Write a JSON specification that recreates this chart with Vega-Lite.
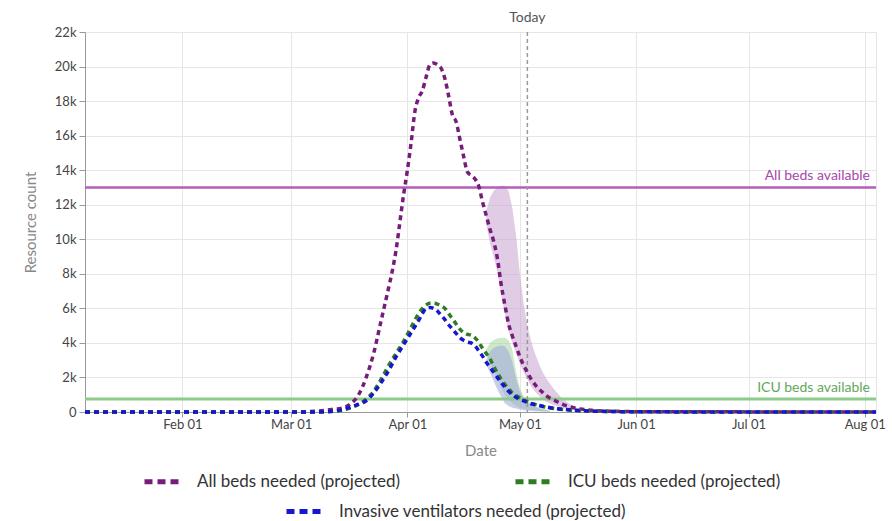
{
  "$schema": "https://vega.github.io/schema/vega-lite/v6.json",
  "autosize": {"type": "none"},
  "width": 791,
  "height": 380,
  "padding": {"left": 85, "top": 32, "right": 16, "bottom": 109},
  "background": "#ffffff",
  "config": {
    "font": "Lato",
    "view": {"stroke": "#e4e4e4"},
    "axis": {
      "gridColor": "#e6e6e6",
      "domainColor": "#999999",
      "tickColor": "#999999",
      "labelColor": "#444444",
      "labelFontSize": 13,
      "titleColor": "#888888",
      "titleFontSize": 15,
      "titleFontWeight": "normal"
    }
  },
  "datasets": {
    "needs": [
      {"date": "2020-01-06", "series": "All beds needed (projected)", "value": 0},
      {"date": "2020-03-01", "series": "All beds needed (projected)", "value": 0},
      {"date": "2020-03-08", "series": "All beds needed (projected)", "value": 50},
      {"date": "2020-03-12", "series": "All beds needed (projected)", "value": 150},
      {"date": "2020-03-15", "series": "All beds needed (projected)", "value": 250},
      {"date": "2020-03-17", "series": "All beds needed (projected)", "value": 500},
      {"date": "2020-03-19", "series": "All beds needed (projected)", "value": 1000},
      {"date": "2020-03-21", "series": "All beds needed (projected)", "value": 2000},
      {"date": "2020-03-23", "series": "All beds needed (projected)", "value": 3400},
      {"date": "2020-03-25", "series": "All beds needed (projected)", "value": 5300},
      {"date": "2020-03-27", "series": "All beds needed (projected)", "value": 7200},
      {"date": "2020-03-28", "series": "All beds needed (projected)", "value": 8200},
      {"date": "2020-03-29", "series": "All beds needed (projected)", "value": 9400},
      {"date": "2020-03-30", "series": "All beds needed (projected)", "value": 11000},
      {"date": "2020-03-31", "series": "All beds needed (projected)", "value": 12600},
      {"date": "2020-04-01", "series": "All beds needed (projected)", "value": 14000},
      {"date": "2020-04-02", "series": "All beds needed (projected)", "value": 15600},
      {"date": "2020-04-03", "series": "All beds needed (projected)", "value": 17400},
      {"date": "2020-04-04", "series": "All beds needed (projected)", "value": 18200},
      {"date": "2020-04-05", "series": "All beds needed (projected)", "value": 18600},
      {"date": "2020-04-06", "series": "All beds needed (projected)", "value": 19400},
      {"date": "2020-04-07", "series": "All beds needed (projected)", "value": 20100},
      {"date": "2020-04-08", "series": "All beds needed (projected)", "value": 20200},
      {"date": "2020-04-09", "series": "All beds needed (projected)", "value": 20100},
      {"date": "2020-04-10", "series": "All beds needed (projected)", "value": 19900},
      {"date": "2020-04-11", "series": "All beds needed (projected)", "value": 19300},
      {"date": "2020-04-12", "series": "All beds needed (projected)", "value": 18300},
      {"date": "2020-04-13", "series": "All beds needed (projected)", "value": 17200},
      {"date": "2020-04-14", "series": "All beds needed (projected)", "value": 16800},
      {"date": "2020-04-15", "series": "All beds needed (projected)", "value": 15800},
      {"date": "2020-04-16", "series": "All beds needed (projected)", "value": 14800},
      {"date": "2020-04-17", "series": "All beds needed (projected)", "value": 13900},
      {"date": "2020-04-18", "series": "All beds needed (projected)", "value": 13700},
      {"date": "2020-04-19", "series": "All beds needed (projected)", "value": 13500},
      {"date": "2020-04-20", "series": "All beds needed (projected)", "value": 13100},
      {"date": "2020-04-21", "series": "All beds needed (projected)", "value": 12200},
      {"date": "2020-04-22", "series": "All beds needed (projected)", "value": 11400},
      {"date": "2020-04-23", "series": "All beds needed (projected)", "value": 10600},
      {"date": "2020-04-24", "series": "All beds needed (projected)", "value": 9900},
      {"date": "2020-04-25", "series": "All beds needed (projected)", "value": 8900},
      {"date": "2020-04-26", "series": "All beds needed (projected)", "value": 7400},
      {"date": "2020-04-27", "series": "All beds needed (projected)", "value": 6200},
      {"date": "2020-04-28", "series": "All beds needed (projected)", "value": 5100},
      {"date": "2020-04-29", "series": "All beds needed (projected)", "value": 4400},
      {"date": "2020-04-30", "series": "All beds needed (projected)", "value": 3800},
      {"date": "2020-05-01", "series": "All beds needed (projected)", "value": 3200},
      {"date": "2020-05-02", "series": "All beds needed (projected)", "value": 2700},
      {"date": "2020-05-03", "series": "All beds needed (projected)", "value": 2300},
      {"date": "2020-05-04", "series": "All beds needed (projected)", "value": 1900},
      {"date": "2020-05-05", "series": "All beds needed (projected)", "value": 1600},
      {"date": "2020-05-06", "series": "All beds needed (projected)", "value": 1350},
      {"date": "2020-05-07", "series": "All beds needed (projected)", "value": 1150},
      {"date": "2020-05-08", "series": "All beds needed (projected)", "value": 950},
      {"date": "2020-05-10", "series": "All beds needed (projected)", "value": 700},
      {"date": "2020-05-12", "series": "All beds needed (projected)", "value": 480},
      {"date": "2020-05-14", "series": "All beds needed (projected)", "value": 320},
      {"date": "2020-05-17", "series": "All beds needed (projected)", "value": 180},
      {"date": "2020-05-20", "series": "All beds needed (projected)", "value": 100},
      {"date": "2020-05-25", "series": "All beds needed (projected)", "value": 50},
      {"date": "2020-06-01", "series": "All beds needed (projected)", "value": 20},
      {"date": "2020-08-04", "series": "All beds needed (projected)", "value": 0},

      {"date": "2020-01-06", "series": "ICU beds needed (projected)", "value": 0},
      {"date": "2020-03-08", "series": "ICU beds needed (projected)", "value": 0},
      {"date": "2020-03-14", "series": "ICU beds needed (projected)", "value": 80},
      {"date": "2020-03-17", "series": "ICU beds needed (projected)", "value": 250},
      {"date": "2020-03-19", "series": "ICU beds needed (projected)", "value": 450},
      {"date": "2020-03-21", "series": "ICU beds needed (projected)", "value": 750},
      {"date": "2020-03-23", "series": "ICU beds needed (projected)", "value": 1200},
      {"date": "2020-03-25", "series": "ICU beds needed (projected)", "value": 1900},
      {"date": "2020-03-27", "series": "ICU beds needed (projected)", "value": 2700},
      {"date": "2020-03-29", "series": "ICU beds needed (projected)", "value": 3400},
      {"date": "2020-03-31", "series": "ICU beds needed (projected)", "value": 4100},
      {"date": "2020-04-02", "series": "ICU beds needed (projected)", "value": 4900},
      {"date": "2020-04-04", "series": "ICU beds needed (projected)", "value": 5700},
      {"date": "2020-04-05", "series": "ICU beds needed (projected)", "value": 6000},
      {"date": "2020-04-06", "series": "ICU beds needed (projected)", "value": 6200},
      {"date": "2020-04-07", "series": "ICU beds needed (projected)", "value": 6300},
      {"date": "2020-04-08", "series": "ICU beds needed (projected)", "value": 6300},
      {"date": "2020-04-09", "series": "ICU beds needed (projected)", "value": 6250},
      {"date": "2020-04-10", "series": "ICU beds needed (projected)", "value": 6150},
      {"date": "2020-04-11", "series": "ICU beds needed (projected)", "value": 6000},
      {"date": "2020-04-12", "series": "ICU beds needed (projected)", "value": 5700},
      {"date": "2020-04-13", "series": "ICU beds needed (projected)", "value": 5400},
      {"date": "2020-04-14", "series": "ICU beds needed (projected)", "value": 5100},
      {"date": "2020-04-15", "series": "ICU beds needed (projected)", "value": 4800},
      {"date": "2020-04-16", "series": "ICU beds needed (projected)", "value": 4600},
      {"date": "2020-04-17", "series": "ICU beds needed (projected)", "value": 4500},
      {"date": "2020-04-18", "series": "ICU beds needed (projected)", "value": 4450},
      {"date": "2020-04-19", "series": "ICU beds needed (projected)", "value": 4300},
      {"date": "2020-04-20", "series": "ICU beds needed (projected)", "value": 4050},
      {"date": "2020-04-21", "series": "ICU beds needed (projected)", "value": 3700},
      {"date": "2020-04-22", "series": "ICU beds needed (projected)", "value": 3400},
      {"date": "2020-04-23", "series": "ICU beds needed (projected)", "value": 3100},
      {"date": "2020-04-24", "series": "ICU beds needed (projected)", "value": 2650},
      {"date": "2020-04-25", "series": "ICU beds needed (projected)", "value": 2250},
      {"date": "2020-04-26", "series": "ICU beds needed (projected)", "value": 1900},
      {"date": "2020-04-27", "series": "ICU beds needed (projected)", "value": 1600},
      {"date": "2020-04-28", "series": "ICU beds needed (projected)", "value": 1350},
      {"date": "2020-04-29", "series": "ICU beds needed (projected)", "value": 1100},
      {"date": "2020-04-30", "series": "ICU beds needed (projected)", "value": 950},
      {"date": "2020-05-01", "series": "ICU beds needed (projected)", "value": 820},
      {"date": "2020-05-02", "series": "ICU beds needed (projected)", "value": 700},
      {"date": "2020-05-04", "series": "ICU beds needed (projected)", "value": 520},
      {"date": "2020-05-06", "series": "ICU beds needed (projected)", "value": 380},
      {"date": "2020-05-08", "series": "ICU beds needed (projected)", "value": 280},
      {"date": "2020-05-11", "series": "ICU beds needed (projected)", "value": 180},
      {"date": "2020-05-14", "series": "ICU beds needed (projected)", "value": 120},
      {"date": "2020-05-18", "series": "ICU beds needed (projected)", "value": 70},
      {"date": "2020-05-25", "series": "ICU beds needed (projected)", "value": 30},
      {"date": "2020-06-01", "series": "ICU beds needed (projected)", "value": 10},
      {"date": "2020-08-04", "series": "ICU beds needed (projected)", "value": 0},

      {"date": "2020-01-06", "series": "Invasive ventilators needed (projected)", "value": 0},
      {"date": "2020-03-08", "series": "Invasive ventilators needed (projected)", "value": 0},
      {"date": "2020-03-12", "series": "Invasive ventilators needed (projected)", "value": 50},
      {"date": "2020-03-15", "series": "Invasive ventilators needed (projected)", "value": 150},
      {"date": "2020-03-17", "series": "Invasive ventilators needed (projected)", "value": 300},
      {"date": "2020-03-19", "series": "Invasive ventilators needed (projected)", "value": 450},
      {"date": "2020-03-21", "series": "Invasive ventilators needed (projected)", "value": 650},
      {"date": "2020-03-23", "series": "Invasive ventilators needed (projected)", "value": 1100},
      {"date": "2020-03-25", "series": "Invasive ventilators needed (projected)", "value": 1700},
      {"date": "2020-03-27", "series": "Invasive ventilators needed (projected)", "value": 2400},
      {"date": "2020-03-29", "series": "Invasive ventilators needed (projected)", "value": 3200},
      {"date": "2020-03-31", "series": "Invasive ventilators needed (projected)", "value": 3900},
      {"date": "2020-04-02", "series": "Invasive ventilators needed (projected)", "value": 4600},
      {"date": "2020-04-04", "series": "Invasive ventilators needed (projected)", "value": 5300},
      {"date": "2020-04-05", "series": "Invasive ventilators needed (projected)", "value": 5700},
      {"date": "2020-04-06", "series": "Invasive ventilators needed (projected)", "value": 6000},
      {"date": "2020-04-07", "series": "Invasive ventilators needed (projected)", "value": 6050},
      {"date": "2020-04-08", "series": "Invasive ventilators needed (projected)", "value": 6000},
      {"date": "2020-04-09", "series": "Invasive ventilators needed (projected)", "value": 5850},
      {"date": "2020-04-10", "series": "Invasive ventilators needed (projected)", "value": 5600},
      {"date": "2020-04-11", "series": "Invasive ventilators needed (projected)", "value": 5350},
      {"date": "2020-04-12", "series": "Invasive ventilators needed (projected)", "value": 5050},
      {"date": "2020-04-13", "series": "Invasive ventilators needed (projected)", "value": 4800},
      {"date": "2020-04-14", "series": "Invasive ventilators needed (projected)", "value": 4550},
      {"date": "2020-04-15", "series": "Invasive ventilators needed (projected)", "value": 4300},
      {"date": "2020-04-16", "series": "Invasive ventilators needed (projected)", "value": 4150},
      {"date": "2020-04-17", "series": "Invasive ventilators needed (projected)", "value": 4050},
      {"date": "2020-04-18", "series": "Invasive ventilators needed (projected)", "value": 4000},
      {"date": "2020-04-19", "series": "Invasive ventilators needed (projected)", "value": 3850},
      {"date": "2020-04-20", "series": "Invasive ventilators needed (projected)", "value": 3550},
      {"date": "2020-04-21", "series": "Invasive ventilators needed (projected)", "value": 3250},
      {"date": "2020-04-22", "series": "Invasive ventilators needed (projected)", "value": 2900},
      {"date": "2020-04-23", "series": "Invasive ventilators needed (projected)", "value": 2600},
      {"date": "2020-04-24", "series": "Invasive ventilators needed (projected)", "value": 2300},
      {"date": "2020-04-25", "series": "Invasive ventilators needed (projected)", "value": 2000},
      {"date": "2020-04-26", "series": "Invasive ventilators needed (projected)", "value": 1700},
      {"date": "2020-04-27", "series": "Invasive ventilators needed (projected)", "value": 1450},
      {"date": "2020-04-28", "series": "Invasive ventilators needed (projected)", "value": 1200},
      {"date": "2020-04-29", "series": "Invasive ventilators needed (projected)", "value": 1000},
      {"date": "2020-04-30", "series": "Invasive ventilators needed (projected)", "value": 850},
      {"date": "2020-05-01", "series": "Invasive ventilators needed (projected)", "value": 740},
      {"date": "2020-05-02", "series": "Invasive ventilators needed (projected)", "value": 650},
      {"date": "2020-05-04", "series": "Invasive ventilators needed (projected)", "value": 480},
      {"date": "2020-05-06", "series": "Invasive ventilators needed (projected)", "value": 380},
      {"date": "2020-05-08", "series": "Invasive ventilators needed (projected)", "value": 290},
      {"date": "2020-05-11", "series": "Invasive ventilators needed (projected)", "value": 190},
      {"date": "2020-05-14", "series": "Invasive ventilators needed (projected)", "value": 130},
      {"date": "2020-05-17", "series": "Invasive ventilators needed (projected)", "value": 80},
      {"date": "2020-05-25", "series": "Invasive ventilators needed (projected)", "value": 30},
      {"date": "2020-06-01", "series": "Invasive ventilators needed (projected)", "value": 10},
      {"date": "2020-08-04", "series": "Invasive ventilators needed (projected)", "value": 0}
    ],
    "bands": [
      {"date": "2020-04-22", "series": "All", "lo": 10900, "hi": 11600},
      {"date": "2020-04-23", "series": "All", "lo": 9800, "hi": 12400},
      {"date": "2020-04-24", "series": "All", "lo": 9000, "hi": 12800},
      {"date": "2020-04-25", "series": "All", "lo": 8100, "hi": 13000},
      {"date": "2020-04-26", "series": "All", "lo": 6800, "hi": 13100},
      {"date": "2020-04-27", "series": "All", "lo": 5700, "hi": 13100},
      {"date": "2020-04-28", "series": "All", "lo": 4700, "hi": 12800},
      {"date": "2020-04-29", "series": "All", "lo": 4000, "hi": 11800},
      {"date": "2020-04-30", "series": "All", "lo": 3400, "hi": 10200},
      {"date": "2020-05-01", "series": "All", "lo": 2800, "hi": 8000},
      {"date": "2020-05-02", "series": "All", "lo": 2300, "hi": 6300},
      {"date": "2020-05-03", "series": "All", "lo": 1900, "hi": 5000},
      {"date": "2020-05-04", "series": "All", "lo": 1500, "hi": 4100},
      {"date": "2020-05-05", "series": "All", "lo": 1200, "hi": 3400},
      {"date": "2020-05-06", "series": "All", "lo": 950, "hi": 2850},
      {"date": "2020-05-07", "series": "All", "lo": 750, "hi": 2350},
      {"date": "2020-05-08", "series": "All", "lo": 600, "hi": 1950},
      {"date": "2020-05-10", "series": "All", "lo": 400, "hi": 1350},
      {"date": "2020-05-12", "series": "All", "lo": 260, "hi": 850},
      {"date": "2020-05-14", "series": "All", "lo": 160, "hi": 500},
      {"date": "2020-05-16", "series": "All", "lo": 100, "hi": 260},
      {"date": "2020-05-19", "series": "All", "lo": 50, "hi": 110},
      {"date": "2020-05-22", "series": "All", "lo": 30, "hi": 50},

      {"date": "2020-04-22", "series": "ICU", "lo": 3350, "hi": 3600},
      {"date": "2020-04-23", "series": "ICU", "lo": 2900, "hi": 4000},
      {"date": "2020-04-24", "series": "ICU", "lo": 2400, "hi": 4150},
      {"date": "2020-04-25", "series": "ICU", "lo": 1900, "hi": 4250},
      {"date": "2020-04-26", "series": "ICU", "lo": 1400, "hi": 4300},
      {"date": "2020-04-27", "series": "ICU", "lo": 1000, "hi": 4300},
      {"date": "2020-04-28", "series": "ICU", "lo": 700, "hi": 4150},
      {"date": "2020-04-29", "series": "ICU", "lo": 500, "hi": 3600},
      {"date": "2020-04-30", "series": "ICU", "lo": 350, "hi": 2300},
      {"date": "2020-05-01", "series": "ICU", "lo": 250, "hi": 1400},
      {"date": "2020-05-02", "series": "ICU", "lo": 180, "hi": 900},
      {"date": "2020-05-03", "series": "ICU", "lo": 120, "hi": 650},
      {"date": "2020-05-05", "series": "ICU", "lo": 80, "hi": 350},
      {"date": "2020-05-07", "series": "ICU", "lo": 50, "hi": 200},
      {"date": "2020-05-09", "series": "ICU", "lo": 30, "hi": 80},

      {"date": "2020-04-22", "series": "Vent", "lo": 2750, "hi": 3000},
      {"date": "2020-04-23", "series": "Vent", "lo": 2300, "hi": 3500},
      {"date": "2020-04-24", "series": "Vent", "lo": 1800, "hi": 3700},
      {"date": "2020-04-25", "series": "Vent", "lo": 1300, "hi": 3800},
      {"date": "2020-04-26", "series": "Vent", "lo": 900, "hi": 3850},
      {"date": "2020-04-27", "series": "Vent", "lo": 500, "hi": 3800},
      {"date": "2020-04-28", "series": "Vent", "lo": 350, "hi": 3500},
      {"date": "2020-04-29", "series": "Vent", "lo": 250, "hi": 2900},
      {"date": "2020-04-30", "series": "Vent", "lo": 200, "hi": 1900},
      {"date": "2020-05-01", "series": "Vent", "lo": 150, "hi": 1200},
      {"date": "2020-05-02", "series": "Vent", "lo": 100, "hi": 800},
      {"date": "2020-05-03", "series": "Vent", "lo": 80, "hi": 550},
      {"date": "2020-05-05", "series": "Vent", "lo": 50, "hi": 300},
      {"date": "2020-05-07", "series": "Vent", "lo": 30, "hi": 150},
      {"date": "2020-05-09", "series": "Vent", "lo": 20, "hi": 60}
    ],
    "capacity": [
      {"series": "All", "value": 13000, "label": "All beds available"},
      {"series": "ICU", "value": 750, "label": "ICU beds available"}
    ],
    "today": [
      {"date": "2020-05-03", "label": "Today"}
    ]
  },
  "layer": [
    {
      "data": {"name": "bands"},
      "transform": [{"filter": "datum.series === 'All'"}],
      "mark": {"type": "area", "color": "#c9a2cf", "opacity": 0.55},
      "encoding": {
        "x": {
          "field": "date",
          "type": "temporal",
          "scale": {"type": "utc", "domain": [{"year": 2020, "month": 1, "date": 6, "utc": true}, {"year": 2020, "month": 8, "date": 4, "utc": true}]},
          "axis": {
            "title": "Date",
            "labelExpr": "utcFormat(datum.value, '%b %d')",
            "tickCount": {"interval": "month", "step": 1},
            "tickSize": 5,
            "labelPadding": 1,
            "titlePadding": 12,
            "labelFlush": false
          }
        },
        "y": {"field": "lo", "type": "quantitative", "scale": {"domain": [0, 22000]}, "axis": {"title": "Resource count", "labelExpr": "datum.value == 0 ? '0' : (datum.value / 1000) + 'k'", "tickCount": 11, "tickSize": 6, "labelPadding": 3, "titlePadding": 16}},
        "y2": {"field": "hi"}
      }
    },
    {
      "data": {"name": "bands"},
      "transform": [{"filter": "datum.series === 'ICU'"}],
      "mark": {"type": "area", "color": "#a6d69e", "opacity": 0.55},
      "encoding": {
        "x": {"field": "date", "type": "temporal"},
        "y": {"field": "lo", "type": "quantitative"},
        "y2": {"field": "hi"}
      }
    },
    {
      "data": {"name": "bands"},
      "transform": [{"filter": "datum.series === 'Vent'"}],
      "mark": {"type": "area", "color": "#9ea6df", "opacity": 0.55},
      "encoding": {
        "x": {"field": "date", "type": "temporal"},
        "y": {"field": "lo", "type": "quantitative"},
        "y2": {"field": "hi"}
      }
    },
    {
      "data": {"name": "capacity"},
      "transform": [{"filter": "datum.series === 'All'"}],
      "mark": {"type": "rule", "color": "#b45cb9", "strokeWidth": 2.5},
      "encoding": {"y": {"field": "value", "type": "quantitative"}}
    },
    {
      "data": {"name": "capacity"},
      "transform": [{"filter": "datum.series === 'ICU'"}],
      "mark": {"type": "rule", "color": "#8dcb8a", "strokeWidth": 3},
      "encoding": {"y": {"field": "value", "type": "quantitative"}}
    },
    {
      "data": {"name": "today"},
      "mark": {"type": "rule", "color": "#9a9a9a", "strokeWidth": 1.5, "strokeDash": [4, 3]},
      "encoding": {"x": {"field": "date", "type": "temporal"}}
    },
    {
      "data": {"name": "needs"},
      "transform": [{"filter": "datum.series !== 'Invasive ventilators needed (projected)'"}],
      "mark": {"type": "line", "strokeWidth": 3.5, "strokeDash": [5, 4], "interpolate": "monotone"},
      "encoding": {
        "x": {"field": "date", "type": "temporal"},
        "y": {"field": "value", "type": "quantitative"},
        "stroke": {
          "field": "series",
          "type": "nominal",
          "scale": {"domain": ["All beds needed (projected)", "ICU beds needed (projected)"], "range": ["#761d7b", "#2f7c22"]},
          "legend": {
            "title": null,
            "orient": "none",
            "direction": "horizontal",
            "legendX": 57,
            "legendY": 430,
            "symbolType": "stroke",
            "symbolSize": 1156,
            "symbolStrokeWidth": 5,
            "symbolDash": [8, 5],
            "labelFontSize": 17,
            "labelColor": "#333333",
            "labelOffset": 16,
            "labelLimit": 400,
            "columnPadding": 104
          }
        }
      }
    },
    {
      "data": {"name": "needs"},
      "transform": [{"filter": "datum.series === 'Invasive ventilators needed (projected)'"}],
      "mark": {"type": "line", "strokeWidth": 3.5, "strokeDash": [5, 4], "interpolate": "monotone"},
      "encoding": {
        "x": {"field": "date", "type": "temporal"},
        "y": {"field": "value", "type": "quantitative"},
        "color": {
          "field": "series",
          "type": "nominal",
          "scale": {"domain": ["Invasive ventilators needed (projected)"], "range": ["#1616cf"]},
          "legend": {
            "title": null,
            "orient": "none",
            "direction": "horizontal",
            "legendX": 199,
            "legendY": 460,
            "symbolType": "stroke",
            "symbolSize": 1156,
            "symbolStrokeWidth": 5,
            "symbolDash": [8, 5],
            "labelFontSize": 17,
            "labelColor": "#333333",
            "labelOffset": 16,
            "labelLimit": 400
          }
        }
      }
    },
    {
      "data": {"name": "capacity"},
      "transform": [{"filter": "datum.series === 'All'"}],
      "mark": {"type": "text", "align": "right", "baseline": "alphabetic", "dx": -6, "dy": -7, "fontSize": 14, "color": "#a548ab"},
      "encoding": {
        "x": {"datum": {"year": 2020, "month": 8, "date": 4, "utc": true}, "type": "temporal"},
        "y": {"field": "value", "type": "quantitative"},
        "text": {"field": "label"}
      }
    },
    {
      "data": {"name": "capacity"},
      "transform": [{"filter": "datum.series === 'ICU'"}],
      "mark": {"type": "text", "align": "right", "baseline": "alphabetic", "dx": -6, "dy": -7, "fontSize": 14, "color": "#5fa85c"},
      "encoding": {
        "x": {"datum": {"year": 2020, "month": 8, "date": 4, "utc": true}, "type": "temporal"},
        "y": {"field": "value", "type": "quantitative"},
        "text": {"field": "label"}
      }
    },
    {
      "data": {"name": "today"},
      "mark": {"type": "text", "align": "center", "baseline": "middle", "dy": -14, "fontSize": 14, "color": "#555555"},
      "encoding": {
        "x": {"field": "date", "type": "temporal"},
        "y": {"datum": 22000, "type": "quantitative"},
        "text": {"field": "label"}
      }
    }
  ]
}
